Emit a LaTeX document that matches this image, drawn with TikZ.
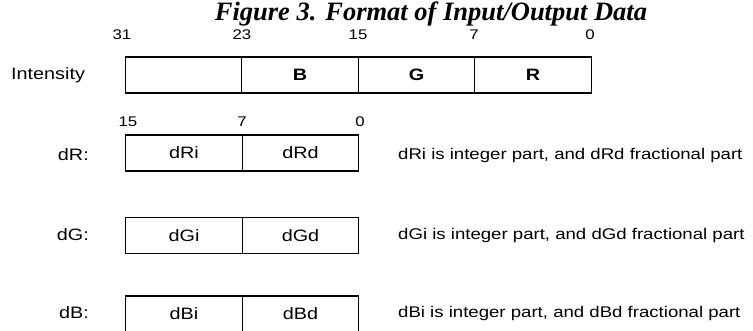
\documentclass[tikz,border=0pt]{standalone}
\usepackage{fontspec}
\setmainfont{Liberation Sans}[FakeStretch=1.2]
\newfontfamily\titlefont{Liberation Serif}
\begin{document}
\begin{tikzpicture}[x=1pt,y=-1pt,
  field/.style={draw, line width=1.4pt, minimum width=116.5pt, minimum height=36pt,
    inner sep=0pt, outer sep=0pt, font=\fontsize{16.5}{18}\selectfont},
  bitno/.style={font=\fontsize{14}{16}\selectfont, inner sep=0pt},
  rowlabel/.style={font=\fontsize{16.5}{18}\selectfont, inner sep=0pt},
  note/.style={font=\fontsize{15.5}{17}\selectfont, inner sep=0pt, anchor=west},
  every node/.style={text=black}]
\useasboundingbox (0,0) rectangle (753,331);
% title
\node[font=\titlefont\bfseries\itshape\fontsize{26.5}{28}\selectfont, inner sep=0pt] (title) at (431,14) {Figure 3. Format of Input/Output Data};
% 32-bit intensity word
\node[rowlabel, anchor=west] (lint) at (11,75) {Intensity};
\node[field] (i3) at (183.5,75) {};
\node[field] (i2) at (300,75) {\bfseries B};
\node[field] (i1) at (416.5,75) {\bfseries G};
\node[field] (i0) at (533,75) {\bfseries R};
\node[bitno] (b31) at (122,35) {31};
\node[bitno] (b23) at (242,35) {23};
\node[bitno] (b15) at (358,35) {15};
\node[bitno] (b7)  at (474,35) {7};
\node[bitno] (b0)  at (590,35) {0};
% 16-bit deltas
\node[bitno] (d15) at (128,122) {15};
\node[bitno] (d7)  at (242,122) {7};
\node[bitno] (d0)  at (360,122) {0};
\node[rowlabel, anchor=east] (lr) at (89,155) {dR:};
\node[field] (ri) at (184,153) {dRi};
\node[field] (rd) at (300.5,153) {dRd};
\node[note] (nr) at (398,155) {dRi is integer part, and dRd fractional part};
\node[rowlabel, anchor=east] (lg) at (89,235) {dG:};
\node[field] (gi) at (184,235.5) {dGi};
\node[field] (gd) at (300.5,235.5) {dGd};
\node[note] (ng) at (398,235) {dGi is integer part, and dGd fractional part};
\node[rowlabel, anchor=east] (lb) at (89,313) {dB:};
\node[field] (bi) at (184,314) {dBi};
\node[field] (bd) at (300.5,314) {dBd};
\node[note] (nb) at (398,313) {dBi is integer part, and dBd fractional part};
\end{tikzpicture}
\end{document}
